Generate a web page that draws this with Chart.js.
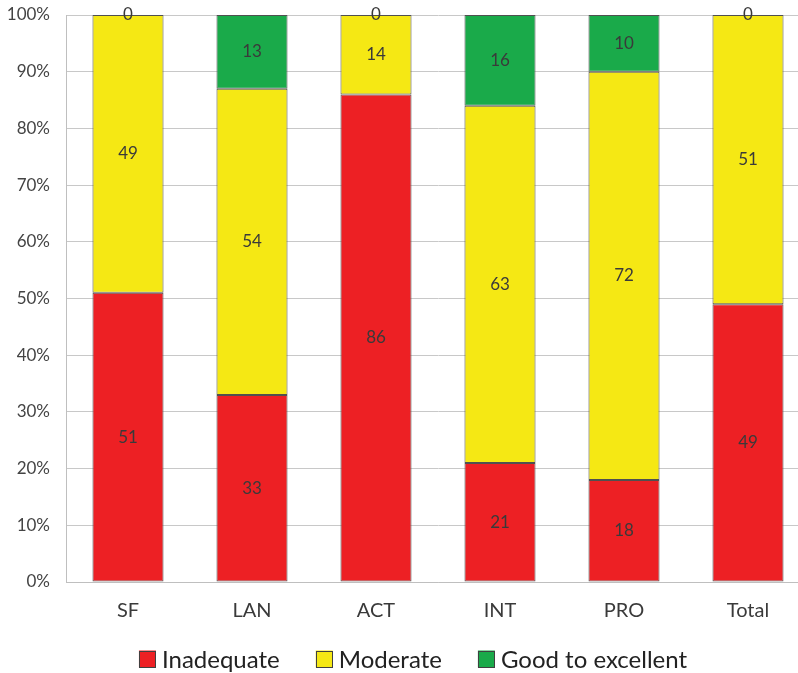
<!DOCTYPE html>
<html>
<head>
<meta charset="utf-8">
<script src="https://cdn.jsdelivr.net/npm/chart.js@4"></script>
<style>
  html, body { margin: 0; padding: 0; background: #fff; overflow: hidden; }
  #wrap { position: absolute; left: 0; top: 0; width: 812px; height: 673px; }
</style>
</head>
<body>
<div id="wrap"><canvas id="c"></canvas></div>
<script>
const categories = ['SF', 'LAN', 'ACT', 'INT', 'PRO', 'Total'];
const inadequate = [51, 33, 86, 21, 18, 49];
const moderate   = [49, 54, 14, 63, 72, 51];
const goodToExcellent = [0, 13, 0, 16, 10, 0];
const yTicks = [0, 10, 20, 30, 40, 50, 60, 70, 80, 90, 100];

const FONT = "Lato, 'Open Sans', sans-serif";
const TEXT = '#3a3a3a';

// Writes each segment's value in the middle of its bar piece
const valueLabels = {
  id: 'valueLabels',
  afterDatasetsDraw(chart) {
    const ctx = chart.ctx;
    ctx.save();
    ctx.font = '17px ' + FONT;
    ctx.fillStyle = TEXT;
    ctx.textAlign = 'center';
    ctx.textBaseline = 'middle';
    chart.data.datasets.forEach((ds, i) => {
      const meta = chart.getDatasetMeta(i);
      meta.data.forEach((bar, j) => {
        const y = (bar.y + bar.base) / 2;
        ctx.fillText(String(ds.data[j]), bar.x, y);
      });
    });
    ctx.restore();
  }
};

// Legend row under the axis: square swatch followed by the series name
const bottomLegend = {
  id: 'bottomLegend',
  afterDraw(chart) {
    const ctx = chart.ctx;
    const box = 17, gapText = 6, gapItem = 36, cx = 413, cy = 659;
    ctx.save();
    ctx.font = '24px ' + FONT;
    ctx.textBaseline = 'middle';
    const items = chart.data.datasets.map(ds => ({ label: ds.label, color: ds.backgroundColor, w: ctx.measureText(ds.label).width }));
    const total = items.reduce((s, it) => s + box + gapText + it.w, 0) + gapItem * (items.length - 1);
    let x = cx - total / 2;
    items.forEach(it => {
      ctx.fillStyle = it.color;
      ctx.fillRect(x, cy - box / 2, box, box);
      ctx.strokeStyle = '#404040';
      ctx.lineWidth = 1;
      ctx.strokeRect(Math.round(x) + 0.5, Math.round(cy - box / 2) + 0.5, box - 1, box - 1);
      x += box + gapText;
      ctx.fillStyle = '#222';
      ctx.fillText(it.label, x, cy + 1);
      x += it.w + gapItem;
    });
    ctx.restore();
  }
};

new Chart(document.getElementById('c'), {
  type: 'bar',
  data: {
    labels: categories,
    datasets: [
      { label: 'Inadequate', data: inadequate, backgroundColor: '#ED2024', borderColor: '#505050', borderWidth: 1, borderSkipped: false },
      { label: 'Moderate', data: moderate, backgroundColor: '#F5E814', borderColor: '#505050', borderWidth: 1, borderSkipped: false },
      { label: 'Good to excellent', data: goodToExcellent, backgroundColor: '#1AAA4A', borderColor: '#505050', borderWidth: 1, borderSkipped: false }
    ]
  },
  options: {
    responsive: true,
    maintainAspectRatio: false,
    animation: false,
    categoryPercentage: 1,
    barPercentage: 0.573,
    layout: { padding: { top: 15, left: 6, right: 2, bottom: 50 } },
    scales: {
      x: {
        stacked: true,
        afterFit(scale) { scale.height = 41; },
        grid: { display: false, drawTicks: false },
        border: { display: true, color: '#BFBFBF', width: 1 },
        ticks: { color: TEXT, font: { family: FONT, size: 20 }, padding: 17 }
      },
      y: {
        stacked: true,
        min: 0,
        max: 100,
        afterFit(scale) { scale.width = 60; scale.paddingTop = 0; scale.paddingBottom = 0; },
        afterBuildTicks(axis) { axis.ticks = yTicks.map(v => ({ value: v })); },
        grid: { color: '#C8C8C8', drawTicks: false },
        border: { display: true, color: '#BFBFBF', width: 1 },
        ticks: { color: '#444', font: { family: FONT, size: 17 }, padding: 16, callback: v => v + '%' }
      }
    },
    plugins: {
      legend: { display: false },
      tooltip: { enabled: false }
    }
  },
  plugins: [valueLabels, bottomLegend]
});
</script>
</body>
</html>
